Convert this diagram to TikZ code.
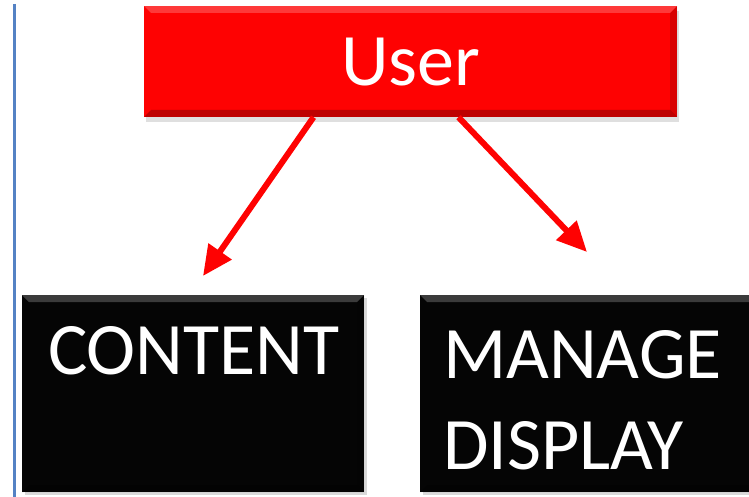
\documentclass[tikz,border=0pt]{standalone}
\usepackage{fontspec}
\newfontfamily\boxfont{Carlito}
\usetikzlibrary{arrows.meta,shadows}
\definecolor{userred}{RGB}{254,2,2}
\definecolor{boxblack}{RGB}{5,5,5}
\definecolor{edgeblue}{RGB}{84,130,196}
\tikzset{
  bevel/.style={path picture={
    \fill[white,opacity=0.22] (path picture bounding box.north west) -- (path picture bounding box.north east)
      -- ([xshift=-7pt,yshift=-7pt]path picture bounding box.north east) -- ([xshift=7pt,yshift=-7pt]path picture bounding box.north west) -- cycle;
    \fill[black,opacity=0.25] (path picture bounding box.south west) -- (path picture bounding box.south east)
      -- ([xshift=-7pt,yshift=7pt]path picture bounding box.south east) -- ([xshift=7pt,yshift=7pt]path picture bounding box.south west) -- cycle;
    \fill[black,opacity=0.15] (path picture bounding box.north east) -- (path picture bounding box.south east)
      -- ([xshift=-7pt,yshift=7pt]path picture bounding box.south east) -- ([xshift=-7pt,yshift=-7pt]path picture bounding box.north east) -- cycle;
  }},
  userbox/.style={fill=userred, minimum width=533pt, minimum height=111pt, inner sep=0pt, bevel,
    drop shadow={opacity=0.25, shadow xshift=2pt, shadow yshift=-5pt}},
  taskbox/.style={fill=boxblack, minimum width=342pt, minimum height=197pt, inner sep=0pt, bevel,
    drop shadow={opacity=0.3, shadow xshift=3pt, shadow yshift=-3pt}},
  boxtext/.style={text=white, inner sep=0pt, align=left, font=\boxfont\fontsize{74}{91}\selectfont},
  flow/.style={draw=userred, line width=6pt, -{Triangle[length=30pt,width=27pt]}}
}
\begin{document}
\begin{tikzpicture}[x=1pt,y=-1pt]
  \useasboundingbox (0,0) rectangle (749,497);
  % left margin rule
  \draw[edgeblue, line width=3pt] (14,4) -- (14,497);
  % boxes
  \node[userbox] (user) at (410.5,61.5) {};
  \node[boxtext, anchor=base] (usertext) at (411,86) {User};
  \node[taskbox] (content) at (193,393.5) {};
  \node[taskbox] (manage) at (591,393.5) {};
  \node[boxtext, anchor=base west] (contenttext) at ([xshift=26pt,yshift=-80pt]content.north west) {CONTENT};
  \node[boxtext, anchor=north west] (managetext) at ([xshift=23pt,yshift=-35pt]manage.north west) {MANAGE\\DISPLAY};
  % arrows
  \coordinate (contenttip) at (203,276);
  \coordinate (managetip) at (587,252);
  \draw[flow] ([xshift=-97pt]user.south) -- (contenttip);
  \draw[flow] ([xshift=48pt]user.south) -- (managetip);
\end{tikzpicture}
\end{document}
